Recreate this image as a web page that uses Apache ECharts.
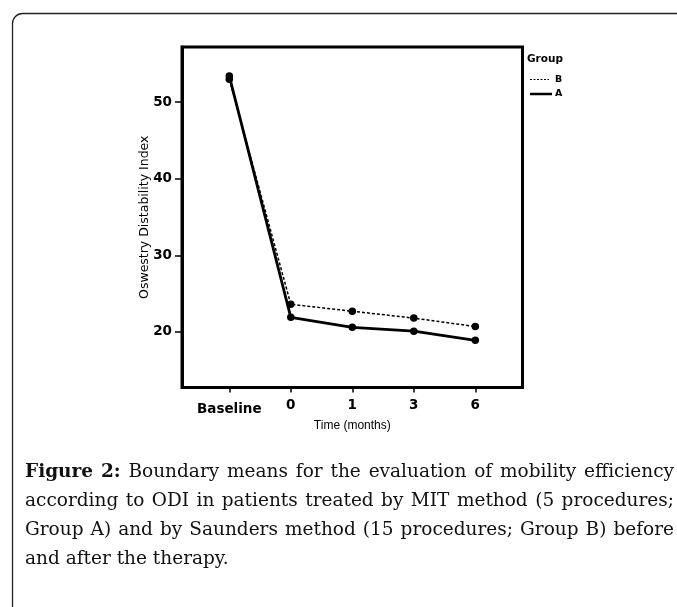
<!DOCTYPE html>
<html>
<head>
<meta charset="utf-8">
<script src="https://cdn.jsdelivr.net/npm/echarts@6/dist/echarts.min.js"></script>
<style>
html,body{margin:0;padding:0;background:#fff;}
#c{width:677px;height:607px;}
</style>
</head>
<body>
<div id="c"></div>
<script>
// ---- data ----
const categories = ['Baseline', '0', '1', '3', '6'];
const groupA = [53.4, 21.9, 20.6, 20.1, 18.9];
const groupB = [53.0, 23.6, 22.7, 21.8, 20.7];
const yTicks = [20, 30, 40, 50];
const legendNames = ['B', 'A'];
const captionLines = [
  'Figure 2: Boundary means for the evaluation of mobility efficiency',
  'according to ODI in patients treated by MIT method (5 procedures;',
  'Group A) and by Saunders method (15 procedures; Group B) before',
  'and after the therapy.'
];

const yMin = 12.74, yMax = 57.2;
const chart = echarts.init(document.getElementById('c'), null, {renderer: 'canvas'});

// caption layout (justified)
const CAP_FONT = '"DejaVu Serif", serif';
const CAP_SIZE = 18.5;
const capLeft = 25, capRight = 674;
const capY = [472, 501, 530, 559];
const mctx = document.createElement('canvas').getContext('2d');
function measure(t, bold) {
  mctx.font = (bold ? 'bold ' : '') + CAP_SIZE + 'px ' + CAP_FONT;
  return mctx.measureText(t).width;
}
const capGraphics = [];
captionLines.forEach((line, li) => {
  const words = line.split(' ');
  const bolds = words.map((w, wi) => li === 0 && wi < 2);
  const widths = words.map((w, wi) => measure(w, bolds[wi]));
  const sum = widths.reduce((a, b) => a + b, 0);
  let gap = measure(' ', false);
  if (li < captionLines.length - 1 && words.length > 1) {
    gap = (capRight - capLeft - sum) / (words.length - 1);
  }
  let x = capLeft;
  words.forEach((w, wi) => {
    capGraphics.push({
      type: 'text', x: x, y: capY[li],
      style: {
        text: w, fill: '#111', font: (bolds[wi] ? 'bold ' : '') + CAP_SIZE + 'px ' + CAP_FONT,
        textVerticalAlign: 'middle', verticalAlign: 'middle'
      }
    });
    x += widths[wi] + gap;
  });
});

const tickFont = {fontFamily: 'DejaVu Sans', fontWeight: 'bold', fontSize: 13.5, color: '#000'};

const option = {
  animation: false,
  backgroundColor: '#fff',
  grid: [
    {left: 182, top: 47, right: 154.5, bottom: 219.5, show: true, borderColor: '#000', borderWidth: 3, backgroundColor: 'transparent', containLabel: false},
    {left: 229.3, right: 201.7, top: 47, bottom: 219.5, containLabel: false}
  ],
  xAxis: [
    {gridIndex: 0, type: 'value', min: 0, max: 1, show: false},
    {
      gridIndex: 1, type: 'category', data: categories, boundaryGap: false,
      axisLine: {show: false},
      axisTick: {show: true, interval: 0, length: 5, lineStyle: {color: '#000', width: 1.5}},
      axisLabel: Object.assign({
        margin: 11, interval: 0, hideOverlap: false,
        formatter: v => v === 'Baseline' ? '{base|' + v + '}' : v,
        rich: {base: Object.assign({padding: [4, 0, 0, 0]}, tickFont)}
      }, tickFont),
      splitLine: {show: false},
      name: 'Time (months)', nameLocation: 'middle', nameGap: 32, nameMoveOverlap: false,
      nameTextStyle: {fontFamily: 'Liberation Sans', fontSize: 12, color: '#000'}
    }
  ],
  yAxis: [
    {
      gridIndex: 0, type: 'value', min: yMin, max: yMax,
      axisLine: {show: true, lineStyle: {color: '#000', width: 3}},
      axisTick: {show: true, customValues: yTicks, length: 7, lineStyle: {color: '#000', width: 1.5}},
      axisLabel: Object.assign({customValues: yTicks, margin: 10}, tickFont),
      splitLine: {show: false},
      name: 'Oswestry Distability Index', nameLocation: 'middle', nameGap: 31, nameRotate: 90,
      nameMoveOverlap: false,
      nameTextStyle: {fontFamily: 'DejaVu Sans', fontSize: 12.5, color: '#000'}
    },
    {gridIndex: 1, type: 'value', min: yMin, max: yMax, show: false}
  ],
  series: [
    {
      name: 'B', type: 'line', xAxisIndex: 1, yAxisIndex: 1, data: groupB,
      symbol: 'circle', symbolSize: 7.5, itemStyle: {color: '#000'},
      lineStyle: {color: '#000', width: 1.5, type: [3, 2]}, z: 2
    },
    {
      name: 'A', type: 'line', xAxisIndex: 1, yAxisIndex: 1, data: groupA,
      symbol: 'circle', symbolSize: 7.5, itemStyle: {color: '#000'},
      lineStyle: {color: '#000', width: 2.8}, z: 3
    }
  ],
  graphic: [
    {type: 'rect', shape: {x: 12.5, y: 13.5, width: 720, height: 720, r: 10}, style: {fill: 'none', stroke: '#222', lineWidth: 1.3}},
    {type: 'text', x: 527, y: 59, style: {text: 'Group', font: 'bold 10.5px "DejaVu Sans"', fill: '#000', textVerticalAlign: 'middle', verticalAlign: 'middle'}},
    {type: 'line', shape: {x1: 530, y1: 79.5, x2: 549, y2: 79.5}, style: {stroke: '#000', lineWidth: 1.2, lineDash: [2, 1.5]}},
    {type: 'text', x: 555, y: 79.5, style: {text: legendNames[0], font: 'bold 9.5px "DejaVu Sans"', fill: '#000', textVerticalAlign: 'middle', verticalAlign: 'middle'}},
    {type: 'line', shape: {x1: 530, y1: 94, x2: 552, y2: 94}, style: {stroke: '#000', lineWidth: 2.5}},
    {type: 'text', x: 555, y: 94, style: {text: legendNames[1], font: 'bold 9.5px "DejaVu Sans"', fill: '#000', textVerticalAlign: 'middle', verticalAlign: 'middle'}}
  ].concat(capGraphics)
};
chart.setOption(option);
</script>
</body>
</html>
